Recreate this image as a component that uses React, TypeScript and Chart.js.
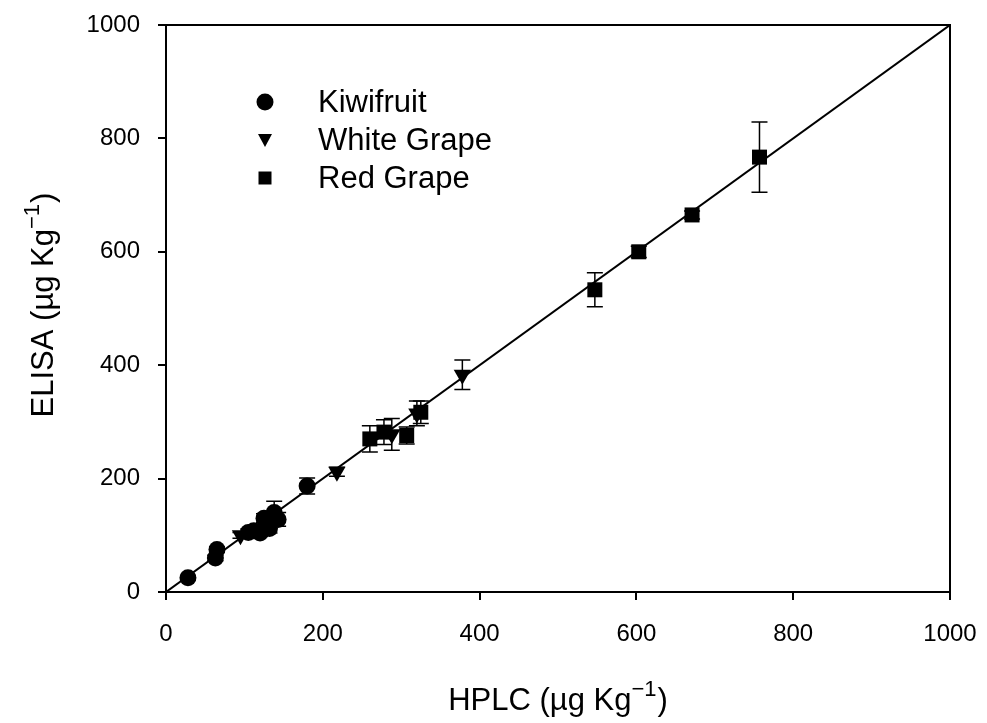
import React, { useEffect, useRef } from "react";
import { Chart, registerables } from "chart.js";

Chart.register(...registerables);

const kiwiX = [28, 63, 65, 105, 112, 120, 125, 132, 138, 143, 180];
const kiwiY = [25, 60, 75, 105, 108, 104, 130, 112, 140, 128, 187];
const kiwiErr = [4, 5, 5, 6, 8, 6, 8, 8, 20, 12, 14];

const whiteX = [95, 218, 288, 320, 378];
const whiteY = [100, 212, 278, 315, 383];
const whiteErr = [5, 8, 28, 22, 26];

const redX = [260, 278, 307, 325, 547, 603, 671, 757];
const redY = [270, 282, 276, 317, 533, 600, 665, 767];
const redErr = [23, 22, 15, 20, 30, 10, 7, 62];

const lineX = [0, 1000];
const lineY = [0, 1000];

const xTicks = [0, 200, 400, 600, 800, 1000];
const yTicks = [0, 200, 400, 600, 800, 1000];

const seriesNames = ["Kiwifruit", "White Grape", "Red Grape"];

const FONT = "'Liberation Sans', Arial, sans-serif";

function pts(xs: number[], ys: number[]) {
  return xs.map((x, i) => ({ x, y: ys[i] }));
}

const errorBarPlugin = {
  id: "errorBars",
  beforeDatasetsDraw(chart: any) {
    const ctx = chart.ctx;
    const xs = chart.scales.x;
    const ys = chart.scales.y;
    ctx.save();
    ctx.strokeStyle = "#000";
    ctx.lineWidth = 1.5;
    chart.data.datasets.forEach((ds: any) => {
      if (!ds.errors) return;
      ds.data.forEach((p: any, i: number) => {
        const e = ds.errors[i];
        const px = xs.getPixelForValue(p.x);
        const top = ys.getPixelForValue(p.y + e);
        const bot = ys.getPixelForValue(p.y - e);
        ctx.beginPath();
        ctx.moveTo(px, top);
        ctx.lineTo(px, bot);
        ctx.moveTo(px - 8, top);
        ctx.lineTo(px + 8, top);
        ctx.moveTo(px - 8, bot);
        ctx.lineTo(px + 8, bot);
        ctx.stroke();
      });
    });
    ctx.restore();
  },
};

function drawSupTitle(ctx: any, main: string, sup: string, cx: number, cy: number, rotate: boolean) {
  ctx.save();
  ctx.translate(cx, cy);
  if (rotate) ctx.rotate(-Math.PI / 2);
  ctx.fillStyle = "#000";
  ctx.textBaseline = "alphabetic";
  ctx.textAlign = "left";
  const big = "31px " + FONT;
  const small = "22px " + FONT;
  ctx.font = big;
  const w1 = ctx.measureText(main).width;
  const w3 = ctx.measureText(")").width;
  ctx.font = small;
  const w2 = ctx.measureText(sup).width;
  const total = w1 + w2 + w3 + 1;
  let x = -total / 2;
  ctx.font = big;
  ctx.fillText(main, x, 0);
  x += w1;
  ctx.font = small;
  ctx.fillText(sup, x, -14);
  x += w2 + 1;
  ctx.font = big;
  ctx.fillText(")", x, 0);
  ctx.restore();
}

const decorPlugin = {
  id: "decor",
  afterDraw(chart: any) {
    const ctx = chart.ctx;
    const a = chart.chartArea;
    ctx.save();
    ctx.strokeStyle = "#000";
    ctx.lineWidth = 2;
    ctx.strokeRect(a.left, a.top, a.right - a.left, a.bottom - a.top);
    ctx.restore();

    drawSupTitle(ctx, "HPLC (\u00b5g Kg", "\u22121", 558, 710, false);
    drawSupTitle(ctx, "ELISA (\u00b5g Kg", "\u22121", 53, 305, true);

    // legend
    const rows = [102, 140, 178];
    chart.data.datasets.slice(0, 3).forEach((ds: any, i: number) => {
      const y = rows[i];
      ctx.save();
      ctx.fillStyle = "#000";
      ctx.beginPath();
      if (ds.pointStyle === "circle") {
        ctx.arc(265, y, 8.5, 0, Math.PI * 2);
      } else if (ds.pointStyle === "triangle") {
        ctx.moveTo(258, y - 6);
        ctx.lineTo(272, y - 6);
        ctx.lineTo(265, y + 7);
        ctx.closePath();
      } else {
        ctx.rect(258.5, y - 6.5, 13, 13);
      }
      ctx.fill();
      ctx.font = "31px " + FONT;
      ctx.textBaseline = "middle";
      ctx.textAlign = "left";
      ctx.fillText(ds.label, 318, y + 1);
      ctx.restore();
    });
  },
};

export default function App() {
  const ref = useRef<HTMLCanvasElement>(null);
  useEffect(() => {
    document.body.style.margin = "0";
    const canvas = ref.current!;
    const chart = new Chart(canvas, {
      type: "scatter",
      data: {
        datasets: [
          {
            label: seriesNames[0],
            data: pts(kiwiX, kiwiY),
            pointStyle: "circle",
            pointRadius: 8.5,
            pointHoverRadius: 8.5,
            backgroundColor: "#000",
            borderColor: "#000",
            borderWidth: 0,
            errors: kiwiErr,
          } as any,
          {
            label: seriesNames[1],
            data: pts(whiteX, whiteY),
            pointStyle: "triangle",
            rotation: 180,
            pointRotation: 180,
            pointRadius: 10,
            pointHoverRadius: 10,
            backgroundColor: "#000",
            borderColor: "#000",
            borderWidth: 0,
            errors: whiteErr,
          } as any,
          {
            label: seriesNames[2],
            data: pts(redX, redY),
            pointStyle: "rect",
            pointRadius: 10.6,
            pointHoverRadius: 10.6,
            backgroundColor: "#000",
            borderColor: "#000",
            borderWidth: 0,
            errors: redErr,
          } as any,
          {
            type: "line",
            label: "fit",
            data: pts(lineX, lineY),
            borderColor: "#000",
            borderWidth: 2,
            pointRadius: 0,
            showLine: true,
            fill: false,
            order: 10,
          } as any,
        ],
      },
      options: {
        animation: false,
        responsive: false,
        maintainAspectRatio: false,
        layout: { padding: { top: 25, right: 37, left: 0, bottom: 0 } },
        plugins: {
          legend: { display: false },
          tooltip: { enabled: false },
          title: { display: false },
        },
        scales: {
          x: {
            type: "linear",
            min: 0,
            max: 1000,
            afterBuildTicks: (s: any) => {
              s.ticks = xTicks.map((v) => ({ value: v }));
            },
            afterFit: (s: any) => {
              s.height = 131;
              s.paddingLeft = 0;
              s.paddingRight = 0;
              s.paddingTop = 0;
              s.paddingBottom = 0;
            },
            ticks: {
              color: "#000",
              font: { size: 24, family: FONT },
              padding: 20,
              maxRotation: 0,
              callback: (v: any) => String(v),
            },
            grid: {
              drawOnChartArea: false,
              drawTicks: true,
              tickLength: 8,
              color: "#000",
              lineWidth: 2,
            },
            border: { display: true, color: "#000", width: 2 },
          },
          y: {
            type: "linear",
            min: 0,
            max: 1000,
            afterBuildTicks: (s: any) => {
              s.ticks = yTicks.map((v) => ({ value: v }));
            },
            afterFit: (s: any) => {
              s.width = 166;
              s.paddingLeft = 0;
              s.paddingRight = 0;
              s.paddingTop = 0;
              s.paddingBottom = 0;
            },
            ticks: {
              color: "#000",
              font: { size: 24, family: FONT },
              padding: 18,
              callback: (v: any) => String(v),
            },
            grid: {
              drawOnChartArea: false,
              drawTicks: true,
              tickLength: 8,
              color: "#000",
              lineWidth: 2,
            },
            border: { display: true, color: "#000", width: 2 },
          },
        },
      } as any,
      plugins: [errorBarPlugin, decorPlugin],
    });
    return () => chart.destroy();
  }, []);
  return (
    <div style={{ width: 987, height: 723, background: "#fff" }}>
      <canvas ref={ref} width={987} height={723} style={{ display: "block" }} />
    </div>
  );
}
